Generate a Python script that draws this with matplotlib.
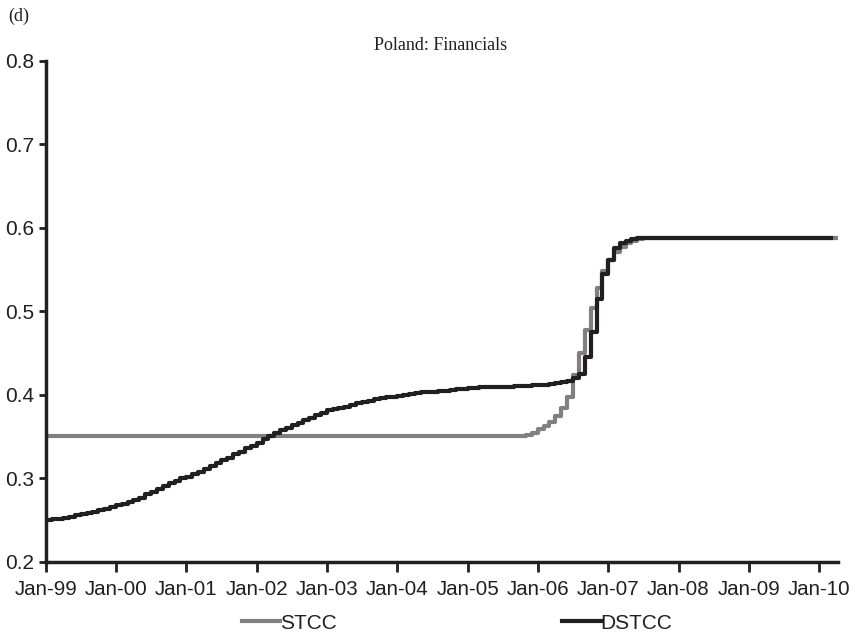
import numpy as np
import pandas as pd
import matplotlib
matplotlib.use("Agg")
import matplotlib.pyplot as plt
from datetime import datetime

# monthly smooth transition conditional correlations, Poland: Financials
stcc = [0.351] * 82 + [
    0.352, 0.355, 0.359, 0.363, 0.368, 0.375, 0.384, 0.398, 0.424, 0.450,
    0.478, 0.504, 0.528, 0.548, 0.562, 0.571, 0.577, 0.582, 0.585, 0.587,
    0.588,
] + [0.588] * 33

dstcc = [
    0.250, 0.251, 0.252, 0.253, 0.254, 0.256, 0.258, 0.259, 0.260, 0.262, 0.264, 0.266,
    0.268, 0.270, 0.272, 0.274, 0.277, 0.281, 0.284, 0.287, 0.291, 0.294, 0.297, 0.300,
    0.302, 0.305, 0.308, 0.311, 0.315, 0.318, 0.322, 0.325, 0.329, 0.332, 0.336, 0.339,
    0.343, 0.347, 0.351, 0.355, 0.358, 0.361, 0.364, 0.367, 0.370, 0.373, 0.376, 0.379,
    0.382, 0.383, 0.385, 0.386, 0.388, 0.390, 0.392, 0.393, 0.395, 0.396, 0.397, 0.398,
    0.399, 0.400, 0.401, 0.402, 0.403, 0.403, 0.404, 0.405, 0.405, 0.406, 0.407, 0.407,
    0.408, 0.408, 0.409, 0.409, 0.409, 0.410, 0.410, 0.410, 0.411, 0.411, 0.411, 0.412,
    0.412, 0.412, 0.413, 0.414, 0.415, 0.417, 0.420, 0.425, 0.445, 0.475, 0.515, 0.545,
    0.562, 0.576, 0.582, 0.585, 0.587, 0.588, 0.588, 0.588, 0.588, 0.588, 0.588, 0.588,
] + [0.588] * 27

dates_stcc = pd.date_range("1999-01-01", periods=len(stcc), freq="MS")
dates_dstcc = pd.date_range("1999-01-01", periods=len(dstcc), freq="MS")

year_ticks = [datetime(y, 1, 1) for y in range(1999, 2011)]
year_labels = ["Jan-%02d" % (y % 100) for y in range(1999, 2011)]

ink = "#231f20"

fig = plt.figure(figsize=(8.64, 6.34), dpi=100)
ax = fig.add_axes([0.0529, 0.1136, 0.9167, 0.7902])

ax.plot(dates_stcc, stcc, drawstyle="steps-post", color="#808080", lw=3.0, label="STCC")
ax.plot(dates_dstcc, dstcc, drawstyle="steps-post", color=ink, lw=3.0, label="DSTCC")

ax.set_xlim(datetime(1999, 1, 1), datetime(2010, 4, 7))
ax.set_ylim(0.2, 0.8)
ax.set_yticks(np.arange(0.2, 0.81, 0.1))
ax.set_yticklabels(["%.1f" % v for v in np.arange(0.2, 0.81, 0.1)],
                   family="Liberation Sans", fontsize=15, color=ink)
ax.set_xticks(year_ticks)
ax.set_xticklabels(year_labels, family="Liberation Sans", fontsize=14.8, color=ink)

for side in ["top", "right"]:
    ax.spines[side].set_visible(False)
for side in ["left", "bottom"]:
    ax.spines[side].set_linewidth(2.5)
    ax.spines[side].set_color(ink)
ax.tick_params(axis="x", direction="out", length=7, width=2, color=ink, pad=6)
ax.tick_params(axis="y", direction="out", length=5, width=2, color=ink, pad=3)

fig.text(0.5104, 0.929, "Poland: Financials", family="Liberation Serif",
         fontsize=13, ha="center", va="center", color=ink)
fig.text(0.010, 0.975, "(d)", family="Liberation Serif", fontsize=13,
         ha="left", va="center", color=ink)

fig.legend(loc="center", bbox_to_anchor=(0.529, 0.017), ncol=2, frameon=False,
           prop={"family": "Liberation Sans", "size": 15},
           handlelength=1.85, handletextpad=0.0, columnspacing=10.8,
           borderaxespad=0, labelcolor=ink)

fig.savefig("out.png", dpi=100)
